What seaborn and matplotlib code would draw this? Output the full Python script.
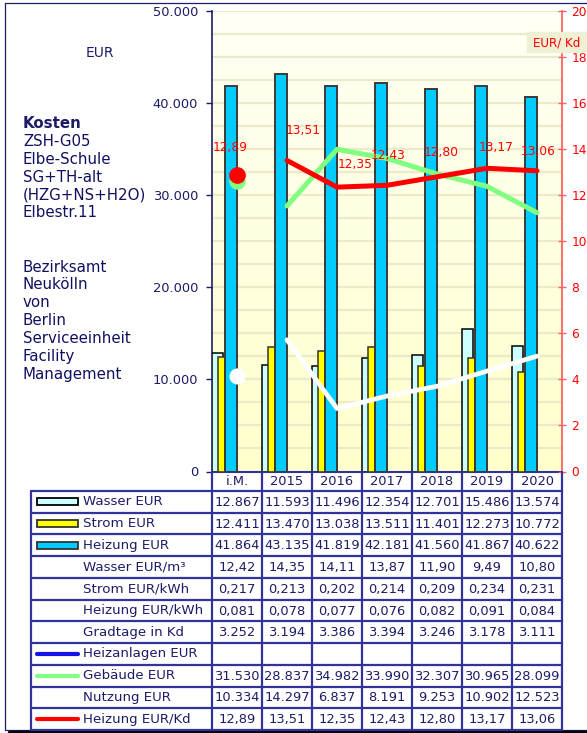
import numpy as np
import matplotlib
matplotlib.use("Agg")
import matplotlib.pyplot as plt
from matplotlib.ticker import FuncFormatter, MultipleLocator
import seaborn as sns

# --- data ---
years = ["i.M.", "2015", "2016", "2017", "2018", "2019", "2020"]
wasser_eur = [12867, 11593, 11496, 12354, 12701, 15486, 13574]
strom_eur = [12411, 13470, 13038, 13511, 11401, 12273, 10772]
heizung_eur = [41864, 43135, 41819, 42181, 41560, 41867, 40622]
wasser_eur_m3 = [12.42, 14.35, 14.11, 13.87, 11.90, 9.49, 10.80]
strom_eur_kwh = [0.217, 0.213, 0.202, 0.214, 0.209, 0.234, 0.231]
heizung_eur_kwh = [0.081, 0.078, 0.077, 0.076, 0.082, 0.091, 0.084]
gradtage_kd = [3252, 3194, 3386, 3394, 3246, 3178, 3111]
gebaeude_eur = [31530, 28837, 34982, 33990, 32307, 30965, 28099]
nutzung_eur = [10334, 14297, 6837, 8191, 9253, 10902, 12523]
heizung_eur_kd = [12.89, 13.51, 12.35, 12.43, 12.80, 13.17, 13.06]

info_top = ["ZSH-G05", "Elbe-Schule", "SG+TH-alt", "(HZG+NS+H2O)", "Elbestr.11"]
info_bottom = ["Bezirksamt", "Neukölln", "von", "Berlin", "Serviceeinheit",
               "Facility", "Management"]

# colours
NAVY = "#1c1c68"
TABLE = "#32329c"
RED = "#ff0000"
RED_AX = "#ff6262"
C_WASSER = "#ccffff"
C_STROM = "#ffff00"
C_HEIZ = "#00ccff"
C_GEB = "#80ff80"
C_ANL = "#1414e6"


def de_int(v):
    return f"{v:,}".replace(",", ".")


def de_dec(v, n):
    return f"{v:.{n}f}".replace(".", ",")


sns.set_theme(style="white")
plt.rcParams["font.family"] = ["DejaVu Sans"]

W, H = 587, 733
fig = plt.figure(figsize=(W / 100, H / 100), dpi=100)
fig.patch.set_facecolor("white")


def rect(x0, y0, x1, y1):
    return [x0 / W, 1 - y1 / H, (x1 - x0) / W, (y1 - y0) / H]


PL, PR, PT, PB = 212, 562, 11, 471.5

# plot background gradient
bg = fig.add_axes(rect(PL, PT, PR, PB), zorder=0)
grad = np.linspace(0, 1, 256)[:, None]
top = np.array([255, 255, 246]) / 255
bot = np.array([255, 255, 204]) / 255
img = top[None, None, :] * (1 - grad[..., None]) + bot[None, None, :] * grad[..., None]
bg.imshow(img, aspect="auto", extent=[0, 1, 0, 1])
bg.axis("off")

ax = fig.add_axes(rect(PL, PT, PR, PB), zorder=1)
ax.patch.set_visible(False)
pos = np.arange(len(years))

# bars
sns.barplot(x=pos - 0.39, y=wasser_eur, native_scale=True, width=0.22,
            color=C_WASSER, saturation=1, edgecolor="black", linewidth=1.1,
            errorbar=None, ax=ax, zorder=3)
sns.barplot(x=pos - 0.315, y=strom_eur, native_scale=True, width=0.13,
            color=C_STROM, saturation=1, edgecolor="#333333", linewidth=1.1,
            errorbar=None, ax=ax, zorder=4)
sns.barplot(x=pos - 0.125, y=heizung_eur, native_scale=True, width=0.23,
            color=C_HEIZ, saturation=1, edgecolor="#3a3a3a", linewidth=1.4,
            errorbar=None, ax=ax, zorder=5)

# lines on the EUR axis
sns.lineplot(x=pos[1:], y=nutzung_eur[1:], color="white", linewidth=3.4,
             solid_capstyle="round", ax=ax, zorder=6)
sns.scatterplot(x=pos[:1], y=nutzung_eur[:1], color="white", s=135,
                linewidth=0, ax=ax, zorder=7)
sns.lineplot(x=pos[1:], y=gebaeude_eur[1:], color=C_GEB, linewidth=3.6,
             solid_capstyle="round", ax=ax, zorder=6)
sns.scatterplot(x=pos[:1], y=gebaeude_eur[:1], color=C_GEB, s=140,
                linewidth=0, ax=ax, zorder=7)

ax.set_xlim(-0.5, len(years) - 0.5)
ax.set_ylim(0, 50000)
ax.set_xticks([])
ax.set_xlabel("")
ax.set_ylabel("")
ax.yaxis.set_major_locator(MultipleLocator(10000))
ax.yaxis.set_minor_locator(MultipleLocator(2500))
ax.yaxis.set_major_formatter(FuncFormatter(lambda v, p: de_int(int(v))))
ax.yaxis.grid(True, which="both", color="#ebebc8", linewidth=1.6, zorder=1)
ax.set_axisbelow(True)
ax.tick_params(axis="y", which="major", direction="out", length=4, width=1,
               color=NAVY, labelcolor=NAVY, labelsize=9.4, pad=6, left=True)
ax.tick_params(axis="y", which="minor", length=0)
for s in ["top", "right"]:
    ax.spines[s].set_visible(False)
ax.spines["left"].set_color(NAVY)
ax.spines["left"].set_linewidth(1.2)
ax.spines["bottom"].set_color(TABLE)
ax.spines["bottom"].set_linewidth(1.5)

# right axis: Heizung EUR/Kd
ax2 = ax.twinx()
sns.lineplot(x=pos[1:], y=heizung_eur_kd[1:], color=RED, linewidth=3.6,
             solid_capstyle="round", ax=ax2, zorder=8)
sns.scatterplot(x=pos[:1], y=heizung_eur_kd[:1], color=RED, s=145,
                linewidth=0, ax=ax2, zorder=9)
label_off = [(-7, 27), (16, 30), (18, 23), (1, 30), (4, 24), (9, 21), (1, 19)]
for i, v in enumerate(heizung_eur_kd):
    dx, dy = label_off[i]
    ax2.annotate(de_dec(v, 2), (pos[i], v), xytext=(dx * 0.72, dy * 0.72),
                 textcoords="offset points", ha="center", va="center",
                 color=RED, fontsize=8.8, zorder=10)
ax2.set_ylim(0, 20)
ax2.set_xlim(-0.5, len(years) - 0.5)
ax2.set_ylabel("")
ax2.yaxis.set_major_locator(MultipleLocator(2))
ax2.tick_params(axis="y", direction="inout", length=5.8, width=1,
                color=RED_AX, labelcolor=RED, labelsize=8.8, pad=4, right=True)
for s in ["top", "left", "bottom"]:
    ax2.spines[s].set_visible(False)
ax2.spines["right"].set_color(RED_AX)
ax2.spines["right"].set_linewidth(1.3)

# --- overlay in pixel coordinates: texts, table, frame ---
ov = fig.add_axes([0, 0, 1, 1], zorder=10)
ov.set_xlim(0, W)
ov.set_ylim(H, 0)
ov.axis("off")

ov.text(100, 53, "EUR", color=NAVY, fontsize=10, ha="center", va="center")
ov.add_patch(plt.Rectangle((527, 32), 70, 20, color="#f0f0d4", zorder=1))
ov.text(557, 43, "EUR/ Kd", color=RED, fontsize=8.6, ha="center", va="center",
        zorder=2)

ov.text(23, 124, "Kosten", color=NAVY, fontsize=10.8, fontweight="bold",
        va="center")
for k, t in enumerate(info_top):
    ov.text(23, 141.7 + 17.7 * k, t, color="#101060", fontsize=10.8, va="center")
for k, t in enumerate(info_bottom):
    ov.text(23, 267 + 17.85 * k, t, color="#101060", fontsize=10.8, va="center")

# table
col_w = (PR - PL) / len(years)
xs = [PL + col_w * j for j in range(len(years) + 1)]
hdr_top, hdr_bot, tab_bot = PB, 491, 730
n_rows = 11
row_h = (tab_bot - hdr_bot) / n_rows
rows = [
    ("Wasser EUR", ("bar", C_WASSER, "black"), [de_int(v) for v in wasser_eur]),
    ("Strom EUR", ("bar", C_STROM, "#333333"), [de_int(v) for v in strom_eur]),
    ("Heizung EUR", ("bar", C_HEIZ, "#333333"), [de_int(v) for v in heizung_eur]),
    ("Wasser EUR/m³", None, [de_dec(v, 2) for v in wasser_eur_m3]),
    ("Strom EUR/kWh", None, [de_dec(v, 3) for v in strom_eur_kwh]),
    ("Heizung EUR/kWh", None, [de_dec(v, 3) for v in heizung_eur_kwh]),
    ("Gradtage in Kd", None, [de_int(v) for v in gradtage_kd]),
    ("Heizanlagen EUR", ("line", C_ANL), [""] * len(years)),
    ("Gebäude EUR", ("line", C_GEB), [de_int(v) for v in gebaeude_eur]),
    ("Nutzung EUR", None, [de_int(v) for v in nutzung_eur]),
    ("Heizung EUR/Kd", ("line", RED), [de_dec(v, 2) for v in heizung_eur_kd]),
]

lw_t = 1.6
for x in xs:
    ov.plot([x, x], [hdr_top, tab_bot], color=TABLE, lw=lw_t, zorder=3)
ov.plot([31, 31], [hdr_bot, tab_bot], color=TABLE, lw=lw_t, zorder=3)
for k in range(n_rows + 1):
    y = hdr_bot + k * row_h
    ov.plot([31, PR], [y, y], color=TABLE, lw=lw_t, zorder=3)

for j, yr in enumerate(years):
    ov.text((xs[j] + xs[j + 1]) / 2, (hdr_top + hdr_bot) / 2 + 0.5, yr,
            color=NAVY, fontsize=9.4, ha="center", va="center")

for k, (lab, key, vals) in enumerate(rows):
    yc = hdr_bot + (k + 0.5) * row_h
    ov.text(83, yc, lab, color=NAVY, fontsize=9.6, ha="left", va="center")
    if key is not None and key[0] == "bar":
        ov.add_patch(plt.Rectangle((37, yc - 3.5), 41, 7, facecolor=key[1],
                                   edgecolor=key[2], lw=1.3, zorder=4))
    elif key is not None:
        ov.plot([37, 78], [yc, yc], color=key[1], lw=3, solid_capstyle="round",
                zorder=4)
    for j, v in enumerate(vals):
        ov.text((xs[j] + xs[j + 1]) / 2, yc + 0.5, v, color=NAVY, fontsize=9.4,
                ha="center", va="center")

# outer frame with shadow
ov.plot([5, 5], [3, 730], color=NAVY, lw=0.9)
ov.plot([5, W], [3, 3], color=NAVY, lw=0.9)
ov.plot([5, W], [729.5, 729.5], color=NAVY, lw=0.9)
ov.plot([9, W], [731.8, 731.8], color="black", lw=2.4)

fig.savefig("out.png", dpi=100)
